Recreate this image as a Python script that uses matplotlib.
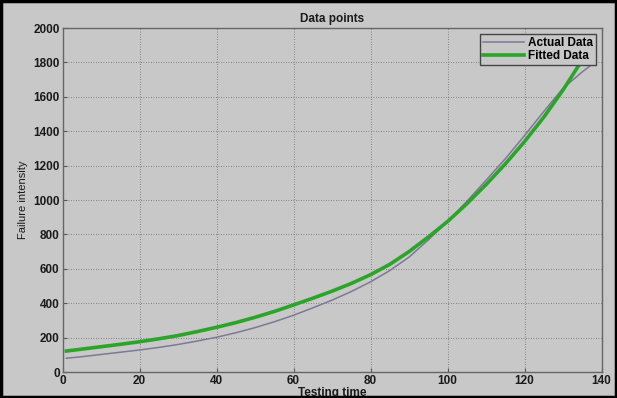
import matplotlib
matplotlib.use("Agg")
import matplotlib.pyplot as plt
from matplotlib.patches import Rectangle

plt.rcParams['font.family'] = ['Liberation Sans', 'DejaVu Sans']

# Data
actual_x = [1, 5, 10, 15, 20, 25, 30, 35, 40, 45, 50, 55, 60, 65, 70, 75, 80,
            85, 90, 95, 100, 105, 110, 115, 120, 125, 130, 135, 137]
actual_y = [80, 89, 102, 115, 128, 143, 160, 180, 202, 228, 258, 292, 330, 373,
            418, 468, 524, 590, 668, 768, 875, 992, 1115, 1240, 1375, 1515,
            1650, 1745, 1780]
fitted_x = [1, 5, 10, 15, 20, 25, 30, 35, 40, 45, 50, 55, 60, 65, 70, 75, 80,
            85, 90, 95, 100, 105, 110, 115, 120, 125, 130, 135, 137]
fitted_y = [122, 133, 147, 161, 176, 193, 212, 235, 260, 287, 318, 352, 390,
            429, 470, 515, 566, 626, 700, 785, 875, 978, 1090, 1210, 1340,
            1482, 1640, 1815, 1890]
x_ticks = [0, 20, 40, 60, 80, 100, 120, 140]
y_ticks = [0, 200, 400, 600, 800, 1000, 1200, 1400, 1600, 1800, 2000]

bg = '#c8c8c8'
fig = plt.figure(figsize=(6.17, 3.98), dpi=100, facecolor=bg)
ax = fig.add_axes([0.1013, 0.0653, 0.975 - 0.1013, 0.9296 - 0.0653])
ax.set_facecolor(bg)

ax.plot(actual_x, actual_y, color='#7d7895', lw=1.1, label='Actual Data', zorder=3)
ax.plot(fitted_x, fitted_y, color='#2aa52a', lw=2.6, label='Fitted Data', zorder=4)

ax.set_xlim(0, 140)
ax.set_ylim(0, 2000)
ax.set_xticks(x_ticks)
ax.set_yticks(y_ticks)
ax.tick_params(labelsize=8.5, length=3, color='#555555', pad=2, direction='in')
for lab in ax.get_xticklabels() + ax.get_yticklabels():
    lab.set_fontweight('bold')
    lab.set_color('#1a1a1a')
ax.grid(True, color='#6a6a6a', linestyle=(0, (1, 2)), linewidth=0.6)
for s in ax.spines.values():
    s.set_color('#666666')
    s.set_linewidth(1.0)

ax.set_title('Data points', fontsize=8.5, fontweight='bold', pad=4, color='#1a1a1a')
ax.set_xlabel('Testing time', fontsize=8.5, fontweight='bold', labelpad=0, color='#1a1a1a')
ax.set_ylabel('Failure intensity', fontsize=8, labelpad=4, color='#1a1a1a')

leg = ax.legend(loc='upper right', frameon=True, fancybox=False,
                handlelength=3.4, handletextpad=0.35, borderpad=0.25,
                labelspacing=0.1, borderaxespad=0.5, prop={'weight': 'bold', 'size': 8.5})
leg.get_frame().set_facecolor(bg)
leg.get_frame().set_edgecolor('#444444')
leg.get_frame().set_alpha(1)
leg.set_zorder(10)

fig.add_artist(Rectangle((0.002, 0.003), 0.996, 0.994, transform=fig.transFigure,
                         fill=False, edgecolor='black', linewidth=2.5))

fig.savefig('out.png', dpi=100, facecolor=bg)
